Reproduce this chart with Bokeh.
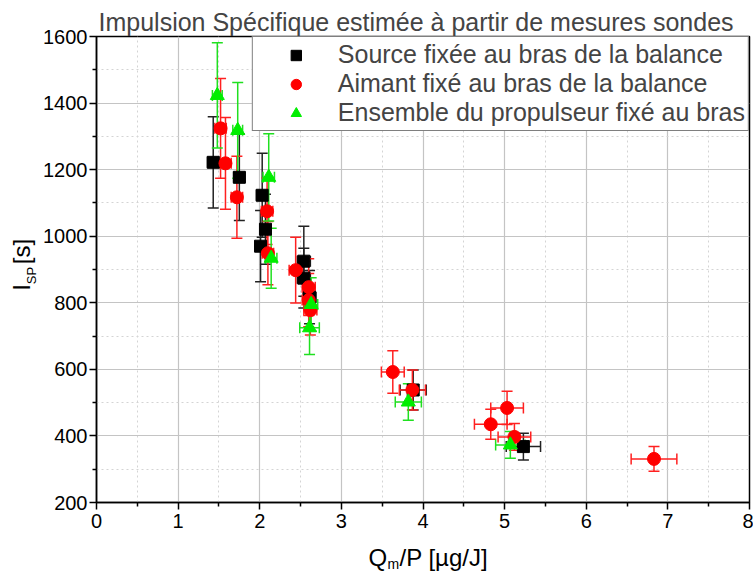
from bokeh.plotting import figure
from bokeh.layouts import row, column
from bokeh.models import (ColumnDataSource, Whisker, TeeHead, Legend, LegendItem,
                          Label, Range1d, FixedTicker)
from bokeh.embed import file_html
from bokeh.resources import INLINE

# ---- data ----
src_x = [1.43, 1.75, 2.03, 2.07, 2.01, 2.54, 2.54, 2.61, 3.88, 5.23]
src_y = [1222, 1177, 1123, 1021, 970, 925, 874, 817, 538, 368]
src_xerr = [0.07, 0.07, 0.07, 0.07, 0.07, 0.08, 0.08, 0.08, 0.16, 0.21]
src_yerr = [137, 130, 126, 105, 107, 105, 90, 80, 60, 40]

aim_x = [1.52, 1.58, 1.72, 2.09, 2.10, 2.44, 2.60, 2.60, 2.62, 3.63, 3.87, 4.83, 5.03, 5.12, 6.83]
aim_y = [1324, 1219, 1117, 1075, 949, 898, 847, 808, 778, 592, 538, 435, 484, 397, 331]
aim_xerr = [0.07, 0.07, 0.07, 0.07, 0.07, 0.08, 0.08, 0.08, 0.08, 0.14, 0.16, 0.2, 0.2, 0.2, 0.28]
aim_yerr = [150, 138, 123, 100, 95, 99, 85, 80, 75, 64, 60, 45, 50, 40, 37]

ens_x = [1.48, 1.73, 2.11, 2.14, 2.63, 2.61, 3.82, 5.07]
ens_y = [1423, 1318, 1177, 934, 795, 725, 502, 373]
ens_xerr = [0.06, 0.06, 0.07, 0.07, 0.08, 0.12, 0.16, 0.18]
ens_yerr = [158, 144, 131, 90, 80, 80, 55, 40]

series_names = ["Source fixée au bras de la balance",
                "Aimant fixé au bras de la balance",
                "Ensemble du propulseur fixé au bras"]
x_ticks = [0, 1, 2, 3, 4, 5, 6, 7, 8]
y_ticks = [200, 400, 600, 800, 1000, 1200, 1400, 1600]
x_minor = [0.5, 1.5, 2.5, 3.5, 4.5, 5.5, 6.5, 7.5]
y_minor = [300, 500, 700, 900, 1100, 1300, 1500]

FONT = "Liberation Sans"

W, H = 753, 574
YLW = 40           # width of the y-title strip
XLH = 36           # height of the x-title strip
MW, MH = W - YLW, H - XLH

p = figure(width=MW, height=MH, x_range=Range1d(0, 8), y_range=Range1d(200, 1600),
           output_backend="svg", toolbar_location=None,
           min_border_left=96 - YLW, min_border_right=4, min_border_top=36,
           min_border_bottom=MH - 502)

p.title.text = "Impulsion Spécifique estimée à partir de mesures sondes"
p.title.text_font = FONT
p.title.text_font_size = "25px"
p.title.text_font_style = "normal"
p.title.align = "left"
p.title.offset = 2
p.title.standoff = 2

p.outline_line_color = "black"
p.outline_line_width = 1.5
p.background_fill_color = "white"

p.xaxis.ticker = FixedTicker(ticks=x_ticks, minor_ticks=x_minor)
p.yaxis.ticker = FixedTicker(ticks=y_ticks, minor_ticks=y_minor)
for ax in (p.xaxis[0], p.yaxis[0]):
    ax.axis_line_color = "black"
    ax.axis_line_width = 1.5
    ax.major_tick_line_color = "black"
    ax.major_tick_line_width = 1.5
    ax.minor_tick_line_color = "black"
    ax.minor_tick_line_width = 1.5
    ax.major_tick_out = 7
    ax.major_tick_in = 0
    ax.minor_tick_out = 4
    ax.minor_tick_in = 0
    ax.major_label_text_font = FONT
    ax.major_label_text_font_size = "20px"
    ax.major_label_text_color = "black"
p.xaxis[0].major_label_standoff = 4
p.yaxis[0].major_label_standoff = 2

p.xgrid.grid_line_color = "#c4c4c4"
p.ygrid.grid_line_color = "#c4c4c4"
p.xgrid.grid_line_width = 1.2
p.ygrid.grid_line_width = 1.2
p.xgrid.minor_grid_line_color = "#d4d4d4"
p.ygrid.minor_grid_line_color = "#d4d4d4"
p.xgrid.minor_grid_line_dash = "2 3"
p.ygrid.minor_grid_line_dash = "2 3"

def add_series(xs, ys, xe, ye, color, barcolor, marker, size):
    src = ColumnDataSource(dict(
        x=xs, y=ys,
        ylo=[a - b for a, b in zip(ys, ye)], yhi=[a + b for a, b in zip(ys, ye)],
        xlo=[a - b for a, b in zip(xs, xe)], xhi=[a + b for a, b in zip(xs, xe)],
    ))
    for dim, base, lo, hi in (("height", "x", "ylo", "yhi"), ("width", "y", "xlo", "xhi")):
        p.add_layout(Whisker(base=base, lower=lo, upper=hi, dimension=dim, source=src,
                             line_color=barcolor, line_width=1.5,
                             upper_head=TeeHead(size=11, line_color=barcolor, line_width=1.5),
                             lower_head=TeeHead(size=11, line_color=barcolor, line_width=1.5)))
    return p.scatter("x", "y", source=src, marker=marker, size=size,
                     fill_color=color, line_color=color)

r1 = add_series(src_x, src_y, src_xerr, src_yerr, "black", "#222222", "square", 12)
r2 = add_series(aim_x, aim_y, aim_xerr, aim_yerr, "#ff0000", "#ff2020", "circle", 13)
r3 = add_series(ens_x, ens_y, ens_xerr, ens_yerr, "#00ee00", "#20e020", "triangle", 14)

legend = Legend(items=[LegendItem(label=series_names[0], renderers=[r1]),
                       LegendItem(label=series_names[1], renderers=[r2]),
                       LegendItem(label=series_names[2], renderers=[r3])],
                location="top_right", margin=0, padding=3, spacing=0,
                glyph_width=80, glyph_height=26, label_height=26, label_standoff=2,
                label_text_font=FONT, label_text_font_size="25px",
                border_line_color="black", border_line_width=1.2,
                background_fill_color="white", background_fill_alpha=1.0)
p.add_layout(legend, "center")

def strip(w, h):
    f = figure(width=w, height=h, output_backend="svg", toolbar_location=None,
               x_range=Range1d(0, 1), y_range=Range1d(0, 1),
               x_axis_location=None, y_axis_location=None, min_border=0)
    f.grid.visible = False
    f.outline_line_color = None
    return f

def lab(fig, x, y, text, size, angle=0.0, align="left", baseline="alphabetic"):
    fig.add_layout(Label(x=x, y=y, x_units="canvas", y_units="canvas", angle=angle,
                         text=text, text_font=FONT, text_font_size=size,
                         text_align=align, text_baseline=baseline, text_color="black"))

# y title strip: I_SP [s]
ys = strip(YLW, H)
lab(ys, 21, 287, "I", "24px", 1.5708, "center", "middle")
lab(ys, 31, 275, "SP", "13px", 1.5708, "center", "middle")
lab(ys, 21, 251, "[s]", "24px", 1.5708, "center", "middle")

# x title strip: Q_m/P [µg/J]
xs_ = strip(MW, XLH)
x0 = 368 - YLW
lab(xs_, x0, 557 - MH, "Q", "24px")
lab(xs_, x0 + 19, 563 - MH, "m", "14px")
lab(xs_, x0 + 31, 557 - MH, "/P [µg/J]", "24px")

layout = row(ys, column(p, xs_, spacing=0), spacing=0)

open("out.html", "w").write(file_html(layout, INLINE))
